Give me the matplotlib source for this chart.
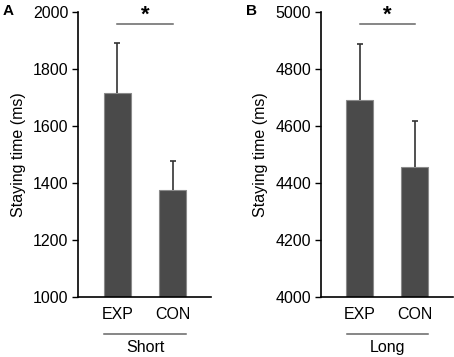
import matplotlib.pyplot as plt
from matplotlib.lines import Line2D

plt.rcParams["font.family"] = ["Liberation Sans", "DejaVu Sans"]

groups = ["EXP", "CON"]
short_means = [1715, 1376]
short_err = [177, 101]
long_means = [4690, 4457]
long_err = [199, 161]

panels = [
    ("A", "Short", short_means, short_err, (1000, 2000), [0.1718, 0.168, 0.293, 0.798]),
    ("B", "Long", long_means, long_err, (4000, 5000), [0.7064, 0.168, 0.2907, 0.798]),
]

bar_color = "#4a4a4a"
fs = 11.5
fig = plt.figure(figsize=(4.54, 3.57), dpi=100)

for letter, cond, means, errs, ylim, rect in panels:
    ax = fig.add_axes(rect)
    x = [0, 1]
    ax.bar(x, means, width=0.49, color=bar_color, edgecolor="#8a8a8a", linewidth=0.8, zorder=2)
    eb = ax.errorbar(x, means, yerr=[[0, 0], errs], fmt="none", ecolor="#333333",
                     elinewidth=1.2, capsize=2.5, capthick=1.2, zorder=3)
    # only the upper half is shown, drop the lower cap
    eb[1][0].set_visible(False)
    ax.set_xlim(-0.71, 1.69)
    ax.set_ylim(*ylim)
    ax.set_yticks(range(ylim[0], ylim[1] + 1, 200))
    ax.set_xticks(x)
    ax.set_xticklabels(groups, fontsize=fs)
    ax.tick_params(axis="x", length=0, pad=7)
    ax.tick_params(axis="y", labelsize=fs, length=4, width=1, direction="out", pad=3)
    for s in ["top", "right"]:
        ax.spines[s].set_visible(False)
    for s in ["left", "bottom"]:
        ax.spines[s].set_linewidth(1.2)
    ax.set_ylabel("Staying time (ms)", fontsize=fs, labelpad=5)

    # significance bar
    ax.plot([0, 1], [ylim[0] + (ylim[1] - ylim[0]) * 0.958] * 2,
            color="#666666", lw=1.1, clip_on=False)
    ax.text(0.5, ylim[0] + (ylim[1] - ylim[0]) * 0.99, "*", ha="center", va="center",
            fontsize=16, fontweight="bold")

    # group line under tick labels
    ax.add_line(Line2D([-0.24, 1.24], [-0.13, -0.13], color="#666666", lw=1.1,
                       transform=ax.get_xaxis_transform(), clip_on=False))
    ax.text(0.5, -0.15, cond, transform=ax.get_xaxis_transform(), ha="center",
            va="top", fontsize=fs)

    fig.text(rect[0] - 0.165, 0.97, letter, fontsize=11, fontweight="bold",
             ha="left", va="center")

fig.savefig("out.png", dpi=100)
